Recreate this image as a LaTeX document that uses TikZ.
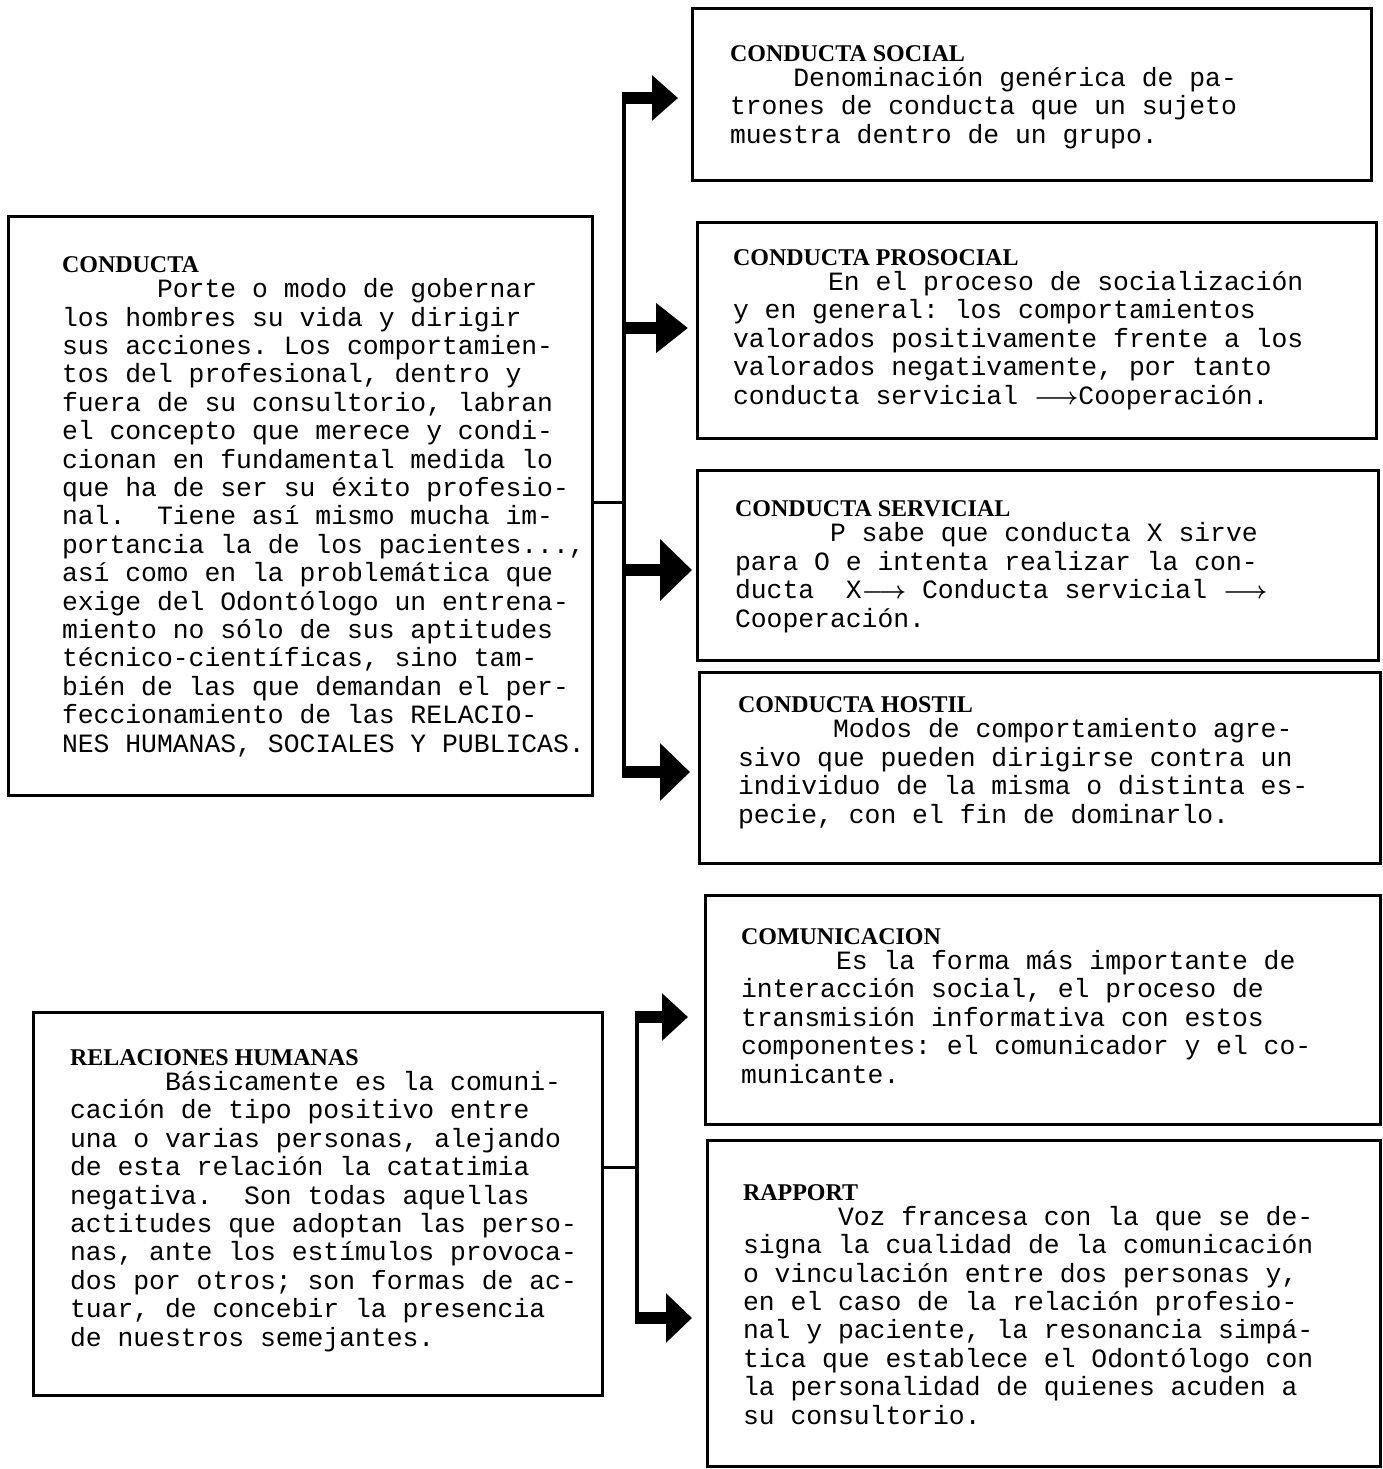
\documentclass[tikz,border=0pt]{standalone}
\usepackage{fontspec}
\setmonofont{Liberation Mono}
\newfontfamily\hf{Liberation Serif}
\usetikzlibrary{arrows.meta}
\newcommand\hd[1]{{\hf\bfseries\fontsize{12}{14.2}\selectfont #1}}
\newcommand\indsix{\hspace*{3.6em}}
\newcommand\indfour{\hspace*{2.4em}}
\newcommand\lar{\mbox{\boldmath$\longrightarrow$}}
\tikzset{
  box/.style 2 args={draw, line width=1.5pt, inner sep=0pt, outer sep=0pt, anchor=north west,
    minimum width=#1*0.5pt, minimum height=#2*0.5pt},
  txt/.style={anchor=base west, inner sep=0pt, outer sep=0pt, align=left,
    font={\ttfamily\fontsize{13.2}{14.2}\selectfont\frenchspacing}},
  trunk/.style={line width=2pt},
  stub/.style={line width=1.5pt},
  harrow/.style 2 args={line width=6pt, -{Triangle[length=#1, width=#2]}}
}
\begin{document}
\begin{tikzpicture}[x=0.5pt, y=-0.5pt]
\useasboundingbox (0,0) rectangle (1383,1469);

% boxes
\node[box={679}{172}] (cs) at (692,8) {};
\node[box={679}{216}] (ps) at (697,222) {};
\node[box={681}{190}] (sv) at (697,470) {};
\node[box={681}{191}] (ho) at (699,672) {};
\node[box={675}{229}] (co) at (705,895) {};
\node[box={673}{326}] (ra) at (707,1140) {};
\node[box={584}{579}] (cd) at (8,216) {};
\node[box={569}{383}] (rh) at (33,1012) {};

% texts (anchored at the baseline of their last line)
\node[txt] (tcs) at (730,143) {\hd{CONDUCTA SOCIAL}\\[-1.7pt]
\indfour Denominación genérica de pa-\\
trones de conducta que un sujeto\\
muestra dentro de un grupo.};

\node[txt] (tps) at (733,404) {\hd{CONDUCTA PROSOCIAL}\\[-1.7pt]
\indsix En el proceso de socialización\\
y en general: los comportamientos\\
valorados positivamente frente a los\\
valorados negativamente, por tanto\\
conducta servicial \lar Cooperación.};

\node[txt] (tsv) at (735,627) {\hd{CONDUCTA SERVICIAL}\\[-1.7pt]
\indsix P sabe que conducta X sirve\\
para O e intenta realizar la con-\\
ducta\ \ X\lar\ Conducta servicial \lar\\
Cooperación.};

\node[txt] (tho) at (738,823) {\hd{CONDUCTA HOSTIL}\\[-1.7pt]
\indsix Modos de comportamiento agre-\\
sivo que pueden dirigirse contra un\\
individuo de la misma o distinta es-\\
pecie, con el fin de dominarlo.};

\node[txt] (tco) at (741,1083) {\hd{COMUNICACION}\\[-1.7pt]
\indsix Es la forma más importante de\\
interacción social, el proceso de\\
transmisión informativa con estos\\
componentes: el comunicador y el co-\\
municante.};

\node[txt] (tra) at (743,1424) {\hd{RAPPORT}\\[-1.7pt]
\indsix Voz francesa con la que se de-\\
signa la cualidad de la comunicación\\
o vinculación entre dos personas y,\\
en el caso de la relación profesio-\\
nal y paciente, la resonancia simpá-\\
tica que establece el Odontólogo con\\
la personalidad de quienes acuden a\\
su consultorio.};

\node[txt] (tcd) at (62,752) {\hd{CONDUCTA}\\[-1.7pt]
\indsix Porte o modo de gobernar\\
los hombres su vida y dirigir\\
sus acciones. Los comportamien-\\
tos del profesional, dentro y\\
fuera de su consultorio, labran\\
el concepto que merece y condi-\\
cionan en fundamental medida lo\\
que ha de ser su éxito profesio-\\
nal.\ \ Tiene así mismo mucha im-\\
portancia la de los pacientes...,\\
así como en la problemática que\\
exige del Odontólogo un entrena-\\
miento no sólo de sus aptitudes\\
técnico-científicas, sino tam-\\
bién de las que demandan el per-\\
feccionamiento de las RELACIO-\\
NES HUMANAS, SOCIALES Y PUBLICAS.};

\node[txt] (trh) at (70,1346) {\hd{RELACIONES HUMANAS}\\[-1.7pt]
\indsix Básicamente es la comuni-\\
cación de tipo positivo entre\\
una o varias personas, alejando\\
de esta relación la catatimia\\
negativa.\ \ Son todas aquellas\\
actitudes que adoptan las perso-\\
nas, ante los estímulos provoca-\\
dos por otros; son formas de ac-\\
tuar, de concebir la presencia\\
de nuestros semejantes.};

% top group connectors
\coordinate (j0) at (624,502);
\coordinate (jt) at (624,92);
\coordinate (jb) at (624,778);
\coordinate (j1) at (622,98);   \coordinate (e1) at (678,98);
\coordinate (j2) at (624,328);  \coordinate (e2) at (688,328);
\coordinate (j3) at (624,570);  \coordinate (e3) at (692,570);
\coordinate (j4) at (622,772);  \coordinate (e4) at (690,772);
\draw[stub] (cd.east |- j0) -- (j0);
\draw[trunk] (jt) -- (jb);
\draw[harrow={13pt}{22pt}] (j1) -- (e1);
\draw[harrow={16pt}{24pt}] (j2) -- (e2);
\draw[harrow={16pt}{30pt}] (j3) -- (e3);
\draw[harrow={15pt}{28pt}] (j4) -- (e4);

% bottom group connectors
\coordinate (k0) at (637,1167);
\coordinate (kt) at (637,1011);
\coordinate (kb) at (637,1324);
\coordinate (k1) at (635,1017); \coordinate (f1) at (688,1017);
\coordinate (k2) at (635,1318); \coordinate (f2) at (692,1318);
\draw[stub] (rh.east |- k0) -- (k0);
\draw[trunk] (kt) -- (kb);
\draw[harrow={13pt}{23pt}] (k1) -- (f1);
\draw[harrow={13pt}{24pt}] (k2) -- (f2);
\end{tikzpicture}
\end{document}
